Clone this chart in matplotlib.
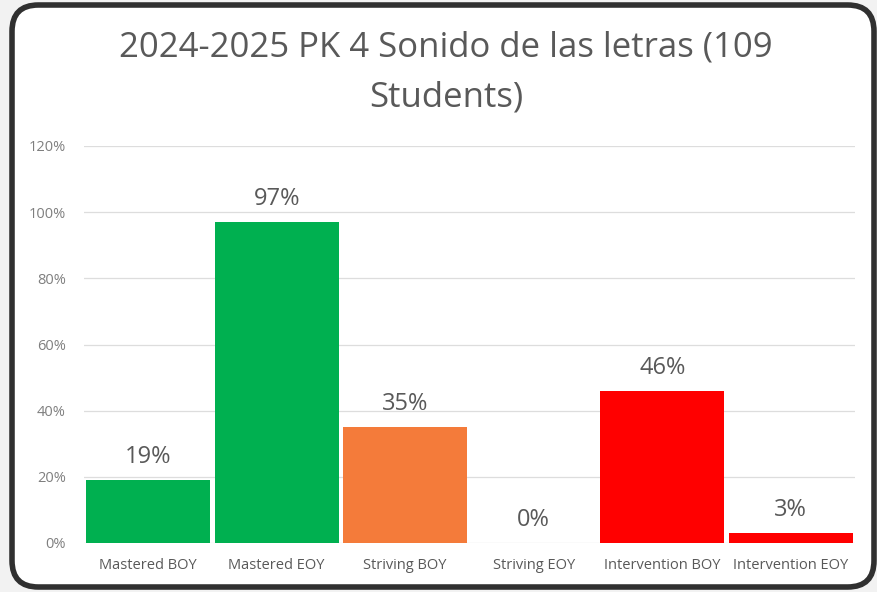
import matplotlib
matplotlib.use("Agg")
import matplotlib.pyplot as plt
from matplotlib.patches import FancyBboxPatch
from matplotlib.ticker import PercentFormatter

categories = ["Mastered BOY", "Mastered EOY", "Striving BOY", "Striving EOY",
              "Intervention BOY", "Intervention EOY"]
values = [0.19, 0.97, 0.35, 0.00, 0.46, 0.03]
labels = ["19%", "97%", "35%", "0%", "46%", "3%"]
colors = ["#00B050", "#00B050", "#F47B3A", "#F47B3A", "#FF0000", "#FF0000"]
yticks = [0, 0.2, 0.4, 0.6, 0.8, 1.0, 1.2]

W, H = 878, 592
fig = plt.figure(figsize=(W / 100, H / 100), dpi=100)
fig.patch.set_facecolor("#F2F2F2")

# rounded frame behind the axes
frame = FancyBboxPatch((12 / W, 5 / H), 862 / W, 582 / H,
                       boxstyle="round,pad=0,rounding_size=0.03",
                       transform=fig.transFigure, facecolor="white",
                       edgecolor="#303030", linewidth=4, mutation_aspect=W / H,
                       zorder=-10)
fig.patches.append(frame)

ax = fig.add_axes([84 / W, 1 - 543 / H, (855 - 84) / W, (543 - 146) / H])
ax.set_facecolor("none")

x = range(len(categories))
ax.bar(x, values, width=0.965, color=colors, zorder=2)
for i, (v, lab) in enumerate(zip(values, labels)):
    ax.annotate(lab, (i, v), xytext=(0, 8), textcoords="offset points",
                ha="center", va="bottom", fontsize=17, color="#595959",
                family="Open Sans")

ax.set_xlim(-0.5, len(categories) - 0.5)
ax.set_ylim(0, 1.2)
ax.set_yticks(yticks)
ax.yaxis.set_major_formatter(PercentFormatter(1.0, decimals=0))
ax.grid(axis="y", color="#DDDDDD", linewidth=0.9, zorder=0)
ax.set_xticks(list(x))
ax.set_xticklabels(categories)
ax.tick_params(axis="y", length=0, pad=13, labelsize=10.5, labelcolor="#7F7F7F")
ax.tick_params(axis="x", length=0, pad=11, labelsize=10.5, labelcolor="#595959")
for lab in ax.get_xticklabels() + ax.get_yticklabels():
    lab.set_family("Open Sans")
for s in ax.spines.values():
    s.set_visible(False)

fig.text(446 / W, 1 - 47 / H, "2024-2025 PK 4 Sonido de las letras (109",
         ha="center", va="center", fontsize=25, color="#595959", family="Open Sans")
fig.text(446 / W, 1 - 98 / H, "Students)",
         ha="center", va="center", fontsize=25, color="#595959", family="Open Sans")

fig.savefig("out.png", dpi=100, facecolor=fig.get_facecolor())
